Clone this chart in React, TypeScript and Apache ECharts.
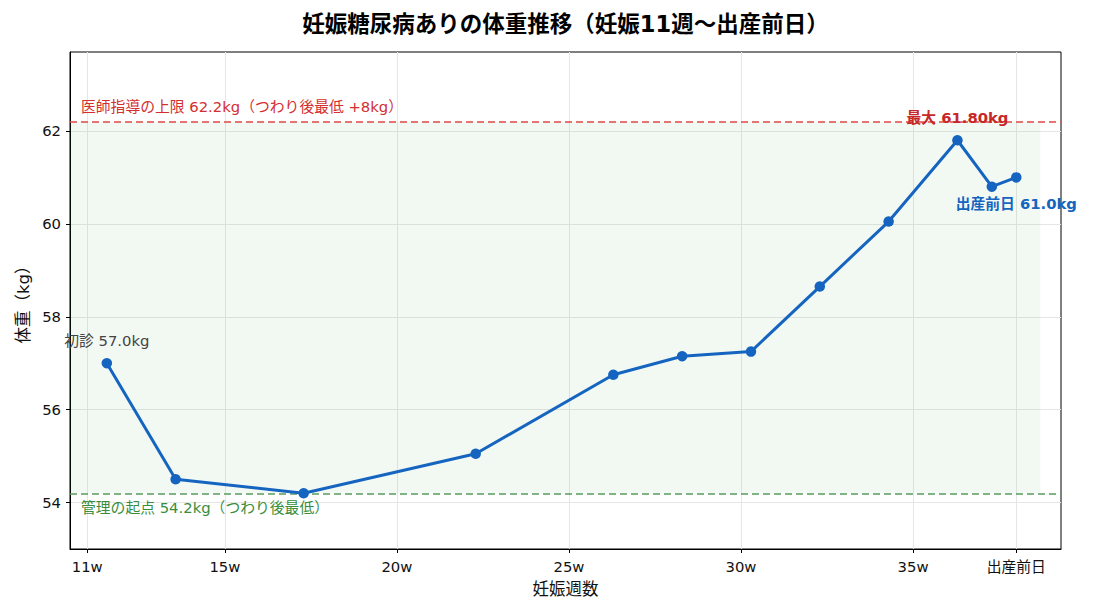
import React, { useEffect, useRef } from 'react';
import * as echarts from 'echarts';

// Gestational week (weeks + days / 7) and body weight at each check-up
const weeks = [11.57, 13.57, 17.29, 22.29, 26.29, 28.29, 30.29, 32.29, 34.29, 36.29, 37.29, 38.0];
const weights = [57.0, 54.5, 54.2, 55.05, 56.75, 57.15, 57.25, 58.65, 60.05, 61.8, 60.8, 61.0];

const xTickValues = [11, 15, 20, 25, 30, 35, 38];
const xTickLabels = ['11w', '15w', '20w', '25w', '30w', '35w', '出産前日'];
const yTickValues = [54, 56, 58, 60, 62];

const baseWeight = 54.2; // lowest weight after morning sickness
const gainAllowance = 8;
const upperLimit = baseWeight + gainAllowance;

const xRange = [10.5, 39.3];
const yRange = [53, 63.7];
const bandEnd = 38.7;

// Latin glyphs in DejaVu Sans, Japanese glyphs fall back to Noto Sans CJK JP
const FONT = '"DejaVu Sans", "Noto Sans CJK JP", sans-serif';
const BLUE = '#1565C0';
const LABEL_SIZE = 14.8;

export default function App() {
  const ref = useRef<HTMLDivElement>(null);

  useEffect(() => {
    if (!ref.current) return;
    const chart = echarts.init(ref.current, undefined, { renderer: 'svg' });

    const maxIdx = weights.indexOf(Math.max(...weights));
    const lastIdx = weights.length - 1;

    const data = weeks.map((w, i) => {
      const item: any = { value: [w, weights[i]] };
      if (i === 0) {
        item.label = {
          show: true,
          position: 'top',
          distance: 10,
          formatter: `初診 ${weights[i].toFixed(1)}kg`,
          color: '#444',
          fontSize: LABEL_SIZE,
          fontFamily: FONT,
        };
      } else if (i === maxIdx) {
        item.label = {
          show: true,
          position: 'top',
          distance: 10,
          formatter: `最大 ${weights[i].toFixed(2)}kg`,
          color: '#C62828',
          fontSize: LABEL_SIZE,
          fontWeight: 'bold',
          fontFamily: FONT,
        };
      } else if (i === lastIdx) {
        item.label = {
          show: true,
          position: 'bottom',
          distance: 13,
          formatter: `出産前日 ${weights[i].toFixed(1)}kg`,
          color: BLUE,
          fontSize: LABEL_SIZE,
          fontWeight: 'bold',
          fontFamily: FONT,
        };
      }
      return item;
    });

    const gridLeft = 70;
    const gridRight = 39;
    const plotCenterX = gridLeft + (1100 - gridLeft - gridRight) / 2;

    chart.setOption({
      animation: false,
      textStyle: { fontFamily: FONT },
      graphic: [
        {
          type: 'text',
          x: plotCenterX,
          y: 24,
          style: {
            text: '妊娠糖尿病ありの体重推移（妊娠11週〜出産前日）',
            font: `bold 22.5px ${FONT}`,
            fill: '#000',
            textAlign: 'center',
            textVerticalAlign: 'middle',
          },
        },
      ],
      grid: {
        left: gridLeft,
        right: gridRight,
        top: 52,
        bottom: 67,
        show: true,
        borderColor: '#000',
        borderWidth: 1,
        backgroundColor: '#fff',
      },
      xAxis: {
        type: 'value',
        min: xRange[0],
        max: xRange[1],
        name: '妊娠週数',
        nameLocation: 'middle',
        nameGap: 32,
        nameTextStyle: { fontSize: 16.5, color: '#111', fontFamily: FONT },
        axisLine: { show: true, lineStyle: { color: '#000', width: 1 } },
        axisTick: {
          show: true,
          length: 4,
          lineStyle: { color: '#000' },
          customValues: xTickValues,
        },
        axisLabel: {
          color: '#111',
          fontSize: LABEL_SIZE,
          margin: 10,
          fontFamily: FONT,
          customValues: xTickValues,
          formatter: (v: number) => {
            const i = xTickValues.indexOf(Math.round(v * 100) / 100);
            return i >= 0 ? xTickLabels[i] : '';
          },
        },
        splitLine: { show: true, lineStyle: { color: '#e6e6e6', width: 1 } },
      },
      yAxis: {
        type: 'value',
        min: yRange[0],
        max: yRange[1],
        name: '体重（kg）',
        nameLocation: 'middle',
        nameGap: 37,
        nameTextStyle: { fontSize: 16.5, color: '#111', fontFamily: FONT },
        axisLine: { show: true, lineStyle: { color: '#000', width: 1 } },
        axisTick: {
          show: true,
          length: 4,
          lineStyle: { color: '#000' },
          customValues: yTickValues,
        },
        axisLabel: {
          color: '#111',
          fontSize: LABEL_SIZE,
          margin: 9,
          fontFamily: FONT,
          customValues: yTickValues,
        },
        splitLine: { show: true, lineStyle: { color: '#e6e6e6', width: 1 } },
      },
      series: [
        {
          type: 'line',
          data,
          symbol: 'circle',
          symbolSize: 10.5,
          lineStyle: { color: BLUE, width: 3 },
          itemStyle: { color: BLUE },
          z: 5,
          markArea: {
            silent: true,
            itemStyle: { color: 'rgba(76,175,80,0.07)' },
            data: [
              [
                { xAxis: xRange[0], yAxis: baseWeight },
                { xAxis: bandEnd, yAxis: upperLimit },
              ],
            ],
          },
          markLine: {
            silent: true,
            symbol: 'none',
            data: [
              {
                yAxis: upperLimit,
                lineStyle: { color: '#E04848', type: [7, 4], width: 1.5 },
                label: {
                  show: true,
                  position: 'insideStartTop',
                  distance: [11, 7.5],
                  formatter: `医師指導の上限 ${upperLimit.toFixed(1)}kg（つわり後最低 +${gainAllowance}kg）`,
                  color: '#D32F2F',
                  fontSize: LABEL_SIZE,
                  fontFamily: FONT,
                },
              },
              {
                yAxis: baseWeight,
                lineStyle: { color: '#5A9A5C', type: [7, 4], width: 1.5 },
                label: {
                  show: true,
                  position: 'insideStartBottom',
                  distance: [11, 6.5],
                  formatter: `管理の起点 ${baseWeight.toFixed(1)}kg（つわり後最低）`,
                  color: '#388E3C',
                  fontSize: LABEL_SIZE,
                  fontFamily: FONT,
                },
              },
            ],
          },
        },
      ],
    });

    return () => chart.dispose();
  }, []);

  return (
    <div
      ref={ref}
      style={{ position: 'fixed', left: 0, top: 0, width: 1100, height: 616, background: '#fff' }}
    />
  );
}
